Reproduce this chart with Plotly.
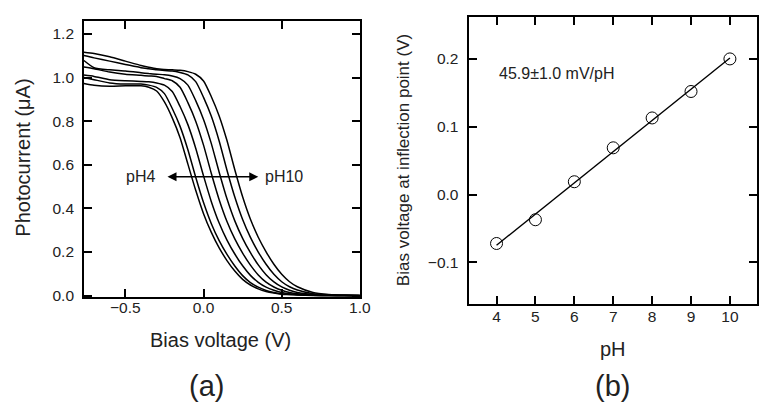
import numpy as np
import plotly.graph_objects as go

# ---------------- data: panel (a) ----------------
bias_v = [-0.765, -0.7, -0.6, -0.5, -0.4, -0.35, -0.3, -0.25, -0.2, -0.15, -0.1, -0.05,
          0.0, 0.05, 0.1, 0.15, 0.2, 0.25, 0.3, 0.35, 0.4, 0.45, 0.5, 0.55, 0.6, 0.7, 0.8, 0.9, 1.0]

i_ph4 = [0.973, 0.965, 0.96, 0.962, 0.962, 0.955, 0.938, 0.888, 0.815, 0.724, 0.603, 0.483,
         0.376, 0.29, 0.219, 0.161, 0.113, 0.075, 0.049, 0.031, 0.019, 0.012, 0.007, 0.005, 0.003,
         0.001, 0.0006, 0.0003, 0.0]
i_ph5 = [1.0, 0.99, 0.975, 0.97, 0.97, 0.965, 0.955, 0.926, 0.858, 0.776, 0.669, 0.543,
         0.427, 0.33, 0.252, 0.189, 0.136, 0.092, 0.06, 0.039, 0.024, 0.015, 0.009, 0.006, 0.004,
         0.0015, 0.0008, 0.0004, 0.0]
i_ph6 = [1.011, 1.005, 0.99, 0.985, 0.982, 0.98, 0.975, 0.965, 0.936, 0.867, 0.784, 0.676,
         0.549, 0.431, 0.333, 0.255, 0.191, 0.137, 0.093, 0.061, 0.039, 0.025, 0.015, 0.009, 0.006,
         0.002, 0.001, 0.0005, 0.0002]
i_ph7 = [1.048, 1.04, 1.025, 1.015, 1.01, 1.007, 1.005, 0.995, 0.985, 0.955, 0.885, 0.80,
         0.69, 0.56, 0.44, 0.34, 0.26, 0.195, 0.14, 0.095, 0.062, 0.04, 0.025, 0.015, 0.009,
         0.004, 0.0015, 0.0007, 0.0003]
i_ph8 = [1.078, 1.045, 1.035, 1.03, 1.022, 1.018, 1.015, 1.013, 1.007, 0.995, 0.965, 0.894,
         0.808, 0.697, 0.566, 0.444, 0.343, 0.263, 0.197, 0.141, 0.096, 0.063, 0.04, 0.025, 0.015,
         0.006, 0.002, 0.001, 0.0004]
i_ph9 = [1.101, 1.09, 1.075, 1.06, 1.045, 1.04, 1.035, 1.032, 1.03, 1.023, 1.012, 0.981,
         0.909, 0.822, 0.709, 0.575, 0.452, 0.349, 0.267, 0.2, 0.144, 0.098, 0.064, 0.041, 0.026,
         0.009, 0.004, 0.0015, 0.0007]
i_ph10 = [1.116, 1.11, 1.095, 1.075, 1.055, 1.047, 1.04, 1.037, 1.035, 1.033, 1.027, 1.015,
          0.984, 0.912, 0.824, 0.711, 0.577, 0.453, 0.35, 0.268, 0.201, 0.144, 0.098, 0.064, 0.041,
          0.015, 0.006, 0.002, 0.001]
curves = [i_ph4, i_ph5, i_ph6, i_ph7, i_ph8, i_ph9, i_ph10]

# ---------------- data: panel (b) ----------------
ph_values = [4, 5, 6, 7, 8, 9, 10]
inflection_v = [-0.072, -0.037, 0.019, 0.069, 0.113, 0.152, 0.200]

xa_ticks = [-0.5, 0.0, 0.5, 1.0]
ya_ticks = [0.0, 0.2, 0.4, 0.6, 0.8, 1.0, 1.2]
xb_ticks = [4, 5, 6, 7, 8, 9, 10]
yb_ticks = [-0.1, 0.0, 0.1, 0.2]

FONT = "Arial, Liberation Sans, sans-serif"
W, H = 770, 411

fig = go.Figure()
for c in curves:
    fig.add_trace(go.Scatter(x=bias_v, y=c, mode="lines", line=dict(color="black", width=1.5, shape="spline", smoothing=0.6),
                             xaxis="x", yaxis="y", showlegend=False, hoverinfo="skip"))

slope, intercept = np.polyfit(ph_values, inflection_v, 1)
fit_x = [ph_values[0], ph_values[-1]]
fit_y = [slope * v + intercept for v in fit_x]
fig.add_trace(go.Scatter(x=fit_x, y=fit_y, mode="lines", line=dict(color="black", width=1.4),
                         xaxis="x2", yaxis="y2", showlegend=False))
fig.add_trace(go.Scatter(x=ph_values, y=inflection_v, mode="markers",
                         marker=dict(symbol="circle-open", size=12, color="black", line=dict(width=1, color="black")),
                         xaxis="x2", yaxis="y2", showlegend=False))

def px(x):
    return x / W

def py(y):
    return 1 - y / H

axis_common = dict(showline=True, linecolor="black", linewidth=1.5, mirror="allticks", ticks="inside",
                   ticklen=8, tickwidth=1.5, tickcolor="black", showgrid=False, zeroline=False,
                   tickfont=dict(family=FONT, size=15.5, color="#222"))

fig.update_layout(
    width=W, height=H, margin=dict(l=0, r=0, t=0, b=0),
    paper_bgcolor="white", plot_bgcolor="white",
    xaxis=dict(domain=[px(77), px(357)], range=[-0.765, 1.0], tickvals=xa_ticks, tickformat=".1f",
               anchor="y", ticklabelstandoff=-4, **axis_common),
    yaxis=dict(domain=[py(294), py(13)], range=[-0.006, 1.26], tickvals=ya_ticks, tickformat=".1f",
               anchor="x", ticklabelstandoff=5, **axis_common),
    xaxis2=dict(domain=[px(468), px(760)], range=[3.3, 10.7], tickvals=xb_ticks,
                anchor="y2", ticklabelstandoff=-2, **axis_common),
    yaxis2=dict(domain=[py(301), py(9)], range=[-0.161, 0.262], tickvals=yb_ticks, tickformat=".1f",
                anchor="x2", ticklabelstandoff=6, **axis_common),
)

ann = []
def txt(text, x, y, size, angle=0, xanchor="center"):
    ann.append(dict(text=text, x=px(x), y=py(y), xref="paper", yref="paper", showarrow=False,
                    textangle=angle, xanchor=xanchor, yanchor="middle",
                    font=dict(family=FONT, size=size, color="#222")))

txt("Photocurrent (μA)", 15, 152.5, 20, angle=-90)
txt("Bias voltage (V)", 215.5, 338, 20)
txt("Bias voltage at inflection point (V)", 402, 154.5, 17, angle=-90)
txt("pH", 614, 347, 20)
txt("(a)", 201, 385, 29)
txt("(b)", 613.5, 385, 29)

# arrow pH4 <-> pH10
ann.append(dict(x=0.35, y=0.545, ax=-0.24, ay=0.545, xref="x", yref="y", axref="x", ayref="y",
                text="", showarrow=True, arrowhead=2, startarrowhead=2, arrowside="end+start",
                arrowsize=1.2, arrowwidth=1.5, arrowcolor="black", startarrowsize=1.2))
ann.append(dict(x=-0.40, y=0.545, xref="x", yref="y", text="pH4", showarrow=False,
                font=dict(family=FONT, size=16, color="#222")))
ann.append(dict(x=0.513, y=0.545, xref="x", yref="y", text="pH10", showarrow=False,
                font=dict(family=FONT, size=16, color="#222")))
ann.append(dict(x=4.0, y=0.179, xref="x2", yref="y2", text="45.9±1.0 mV/pH", showarrow=False,
                xanchor="left", font=dict(family=FONT, size=16, color="#222")))

fig.update_layout(annotations=ann)
fig.write_html("out.html")
